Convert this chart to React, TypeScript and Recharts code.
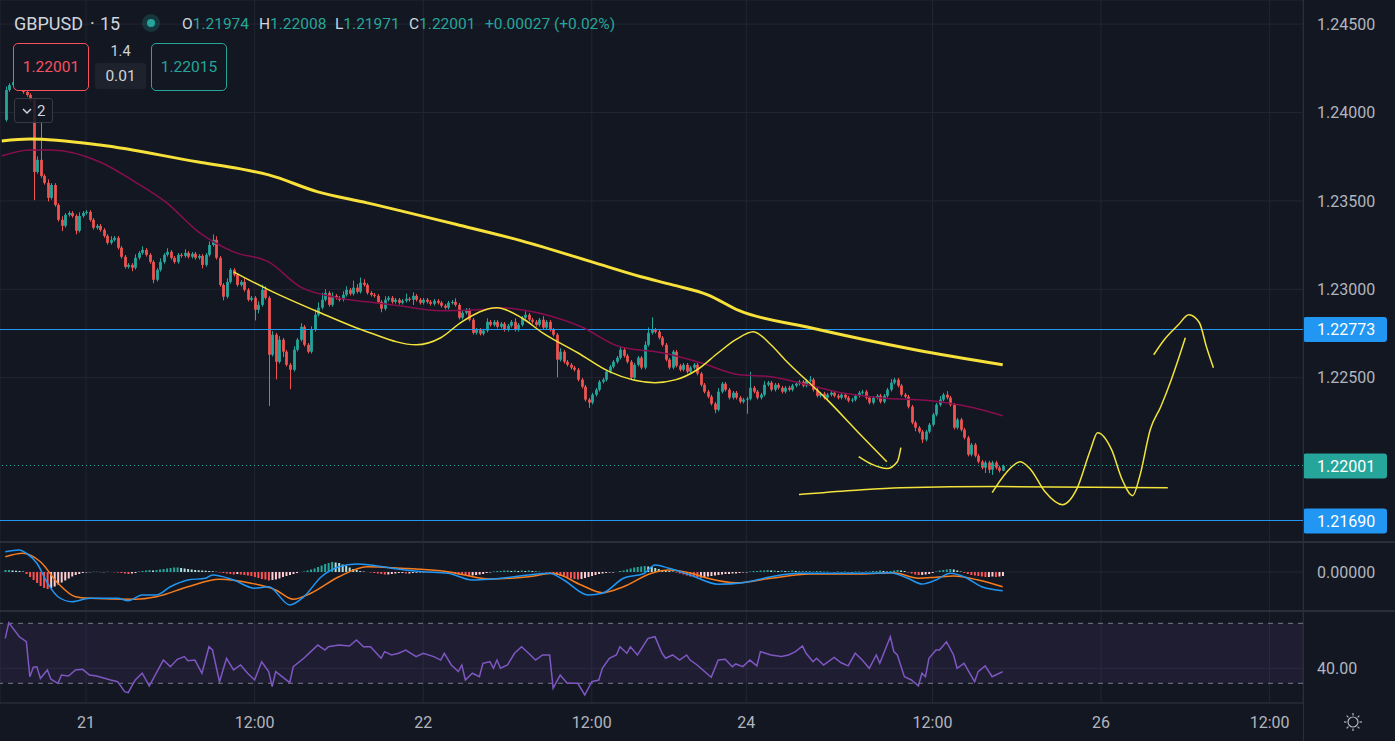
import React from 'react';
import {
  ComposedChart,
  Bar,
  Line,
  XAxis,
  YAxis,
  CartesianGrid,
  ReferenceLine,
  ReferenceArea,
  Cell,
} from 'recharts';

// 15 minute slots on the visible time scale (candles sit in slots 1..285)
const SLOT_COUNT = 371;
const FIRST_OPEN = 1.23958;

const closes = [
  1.24127, 1.24155, 1.24172, 1.24155, 1.24139, 1.24116, 1.24099, 1.24071, 1.23664, 1.23732,
  1.23641, 1.23602, 1.23517, 1.2359, 1.23477, 1.23393, 1.23359, 1.23421, 1.23432, 1.23415,
  1.23331, 1.23415, 1.23432, 1.23438, 1.23393, 1.23348, 1.23359, 1.23336, 1.23302, 1.23263,
  1.2328, 1.23291, 1.23235, 1.23184, 1.23127, 1.23138, 1.23122, 1.23178, 1.23206, 1.23223,
  1.23195, 1.23155, 1.23054, 1.2311, 1.23155, 1.23195, 1.23212, 1.23178, 1.23155, 1.23195,
  1.23189, 1.23206, 1.23184, 1.23201, 1.23178, 1.23189, 1.23138, 1.23195, 1.23251, 1.2328,
  1.23178, 1.23025, 1.22958, 1.23042, 1.2311, 1.23082, 1.23025, 1.23042, 1.22997, 1.22941,
  1.22952, 1.22884, 1.22912, 1.22997, 1.22952, 1.2263, 1.22743, 1.2259, 1.22715, 1.22647,
  1.22573, 1.22545, 1.22658, 1.22715, 1.22788, 1.22686, 1.22647, 1.22771, 1.22856, 1.22896,
  1.22941, 1.2298, 1.22912, 1.22963, 1.22952, 1.22941, 1.22969, 1.22997, 1.22975, 1.23009,
  1.22986, 1.23037, 1.23025, 1.2298, 1.22969, 1.22963, 1.22929, 1.2289, 1.22941, 1.22952,
  1.22929, 1.22941, 1.22924, 1.22935, 1.22946, 1.22941, 1.22963, 1.22941, 1.22924, 1.22941,
  1.22929, 1.22918, 1.22935, 1.22924, 1.22907, 1.22896, 1.22924, 1.22929, 1.22912, 1.22839,
  1.22867, 1.22884, 1.22828, 1.22754, 1.22771, 1.22749, 1.22766, 1.22816, 1.22799, 1.22816,
  1.22788, 1.22805, 1.22771, 1.22794, 1.22816, 1.22771, 1.22799, 1.22839, 1.22856, 1.22828,
  1.22816, 1.22799, 1.22828, 1.22783, 1.22816, 1.22771, 1.22743, 1.22602, 1.22647, 1.2259,
  1.22573, 1.22557, 1.22545, 1.22489, 1.22449, 1.22376, 1.22359, 1.22404, 1.22432, 1.22477,
  1.22489, 1.22534, 1.22562, 1.2259, 1.22613, 1.22658, 1.22624, 1.2259, 1.225, 1.22573,
  1.22613, 1.22557, 1.22686, 1.22754, 1.22771, 1.2276, 1.22726, 1.22686, 1.22602, 1.22557,
  1.22647, 1.22568, 1.22545, 1.22573, 1.22534, 1.22557, 1.22573, 1.22523, 1.2246, 1.22421,
  1.22393, 1.22353, 1.22319, 1.22421, 1.22466, 1.22432, 1.22387, 1.22415, 1.22387, 1.22364,
  1.22376, 1.22381, 1.22443, 1.22421, 1.22387, 1.22404, 1.2246, 1.22472, 1.22432, 1.2246,
  1.22443, 1.22421, 1.22443, 1.22432, 1.22455, 1.22466, 1.22477, 1.22455, 1.22483, 1.22489,
  1.22432, 1.22398, 1.2241, 1.22387, 1.22404, 1.22415, 1.22398, 1.22387, 1.22404, 1.22387,
  1.2237, 1.22376, 1.22398, 1.22415, 1.22421, 1.22387, 1.22359, 1.22387, 1.22398, 1.22364,
  1.22398, 1.22432, 1.22472, 1.22489, 1.22455, 1.22404, 1.22393, 1.22336, 1.22246, 1.22217,
  1.22195, 1.2215, 1.22195, 1.22234, 1.22291, 1.22347, 1.22376, 1.22404, 1.22387, 1.22347,
  1.22217, 1.22263, 1.22206, 1.22161, 1.22065, 1.22121, 1.22059, 1.22025, 1.21991, 1.2202,
  1.2198, 1.2202, 1.21991, 1.21974, 1.22001,
];

// wick length beyond the body, in pips
const wickUp = [
  2, 1, 2, 1, 1, 1, 1, 1, 1, 2, 21, 1, 2, 1, 1, 1, 2, 1, 1, 1,
  1, 2, 1, 1, 1, 1, 1, 1, 1, 1, 2, 1, 1, 1, 1, 1, 1, 2, 1, 2,
  1, 1, 1, 1, 2, 1, 2, 1, 1, 1, 1, 2, 1, 1, 1, 1, 1, 1, 2, 3,
  2, 1, 1, 2, 1, 1, 1, 1, 2, 1, 1, 1, 2, 3, 2, 1, 2, 1, 2, 1,
  1, 1, 2, 1, 2, 1, 1, 2, 3, 3, 4, 2, 1, 2, 1, 1, 2, 2, 1, 4,
  2, 3, 2, 1, 1, 1, 1, 1, 2, 1, 1, 1, 1, 1, 3, 1, 2, 1, 1, 1,
  1, 1, 1, 1, 1, 1, 1, 1, 2, 1, 1, 1, 1, 1, 1, 1, 1, 2, 1, 1,
  1, 1, 1, 1, 1, 2, 1, 1, 2, 1, 1, 1, 1, 2, 1, 1, 1, 1, 2, 1,
  1, 1, 1, 1, 1, 1, 1, 1, 1, 1, 1, 1, 1, 1, 1, 2, 1, 1, 1, 1,
  1, 1, 2, 3, 7, 1, 1, 1, 1, 1, 1, 1, 1, 1, 1, 1, 1, 1, 1, 1,
  1, 1, 1, 2, 1, 1, 1, 1, 1, 1, 1, 1, 9, 1, 1, 1, 2, 1, 1, 1,
  1, 1, 1, 1, 1, 1, 1, 1, 1, 2, 1, 1, 1, 1, 1, 1, 1, 1, 1, 1,
  1, 1, 1, 1, 1, 1, 1, 1, 1, 1, 1, 1, 2, 1, 1, 1, 1, 1, 1, 1,
  1, 1, 1, 1, 1, 1, 2, 1, 2, 1, 1, 1, 1, 1, 1, 1, 1, 1, 1, 1,
  1, 1, 1, 1, 0.7,
];

const wickDown = [
  1, 1, 1, 1, 1, 1, 1, 1, 16, 1, 1, 1, 2, 1, 1, 1, 3, 1, 1, 1,
  2, 1, 1, 1, 1, 1, 1, 1, 1, 1, 1, 1, 1, 1, 1, 1, 2, 1, 1, 1,
  1, 1, 2, 1, 1, 1, 1, 1, 1, 1, 1, 1, 1, 1, 1, 1, 2, 1, 1, 1,
  1, 1, 2, 1, 1, 1, 1, 1, 1, 1, 1, 6, 2, 1, 1, 29, 1, 10, 1, 3,
  1, 11, 1, 1, 1, 1, 1, 1, 1, 1, 1, 1, 1, 1, 1, 1, 1, 1, 1, 1,
  1, 1, 1, 1, 1, 1, 1, 2, 1, 1, 1, 1, 1, 1, 1, 1, 3, 1, 1, 1,
  1, 1, 1, 1, 1, 1, 1, 1, 1, 1, 1, 1, 1, 1, 1, 1, 1, 1, 1, 1,
  1, 1, 1, 1, 1, 1, 1, 1, 1, 1, 1, 1, 1, 1, 1, 1, 1, 10, 1, 1,
  1, 1, 1, 1, 1, 1, 3, 1, 1, 1, 1, 1, 1, 1, 1, 1, 1, 1, 1, 1,
  1, 1, 1, 1, 1, 1, 1, 1, 1, 1, 1, 1, 1, 1, 1, 1, 1, 1, 1, 1,
  1, 1, 2, 1, 1, 1, 1, 1, 1, 1, 1, 8, 1, 1, 1, 1, 1, 1, 1, 1,
  1, 1, 1, 1, 1, 1, 1, 1, 1, 1, 1, 1, 1, 1, 1, 1, 1, 1, 1, 1,
  1, 1, 1, 1, 1, 1, 1, 1, 1, 1, 1, 1, 1, 1, 1, 1, 1, 1, 1, 2,
  1, 2, 1, 1, 1, 1, 1, 1, 1, 1, 1, 1, 1, 1, 1, 1, 1, 1, 1, 3,
  2, 3, 1, 1, 0.3,
];

// [slot, price]
const ma200Points = [
  [0, 1.23839], [8, 1.2385], [28, 1.23816], [56, 1.2372], [68, 1.23681], [76, 1.23647],
  [90, 1.23551], [104, 1.23489], [131, 1.23359], [148, 1.23274], [168, 1.23155],
  [182, 1.23071], [191, 1.23025], [201, 1.22969], [210, 1.22879], [229, 1.22788],
  [260, 1.22658], [285, 1.22573],
];

const ma50Points = [
  [0, 1.23754], [8, 1.23788], [14, 1.23788], [28, 1.2372], [37, 1.23619], [47, 1.23489],
  [56, 1.23325], [66, 1.23212], [76, 1.23155], [85, 1.23014], [94, 1.22958], [104, 1.22929],
  [113, 1.22907], [125, 1.22879], [136, 1.22884], [142, 1.22896], [148, 1.22884],
  [156, 1.2285], [165, 1.22788], [176, 1.22675], [188, 1.22641], [199, 1.22585],
  [210, 1.22517], [219, 1.22506], [227, 1.22472], [239, 1.22415], [250, 1.22387],
  [267, 1.22364], [279, 1.22319], [285, 1.22285],
];

// hand drawn curves
const waveDrawing = [
  [66, 1.23099], [76, 1.22997], [90, 1.22873], [104, 1.2276], [118, 1.22686], [125, 1.22726],
  [131, 1.22816], [141, 1.22896], [148, 1.22839], [154, 1.22754], [164, 1.22641],
  [173, 1.22534], [186, 1.22472], [192, 1.22489], [198, 1.22545], [204, 1.22641],
  [209, 1.22715], [214, 1.2276], [219, 1.22686], [223, 1.22602], [235, 1.22376],
  [245, 1.22167], [252, 1.22025],
];
const hookDrawing = [[244, 1.22054], [248, 1.22008], [252, 1.21986], [255, 1.22025], [256, 1.22104]];
const floorDrawing = [[227, 1.21839], [242, 1.21862], [256, 1.21878], [284, 1.21884], [332, 1.21878]];
const forecastDrawing = [
  [282, 1.2185], [286, 1.21963], [290, 1.22025], [293, 1.2198], [297, 1.21856], [302, 1.21782],
  [306, 1.21867], [310, 1.22093], [312, 1.22189], [316, 1.22093], [319, 1.21924],
  [322, 1.21833], [324, 1.21941], [327, 1.22206], [330, 1.22336], [333, 1.22489], [337, 1.22726],
];
const arrowDrawing = [
  [328, 1.2263], [331, 1.22715], [335, 1.22799], [338, 1.22856], [341, 1.22811], [343, 1.22675], [345, 1.22556],
];

// MACD (12, 26, 9)
const macdPoints = [
  [1, 0.00081], [5, 0.00088], [7, 0.00075], [10, 0.00035], [13, -0.00044], [16, -0.00099],
  [20, -0.00119], [25, -0.00105], [33, -0.00105], [36, -0.00115], [40, -0.00092], [44, -0.00092],
  [48, -0.00059], [53, -0.00032], [58, -0.00025], [60, -0.00012], [66, -0.00032], [72, -0.00065],
  [76, -0.00059], [82, -0.00132], [86, -0.00099], [91, -0.00019], [96, 0.00021], [101, 0.00032],
  [105, 0.00028], [111, 0.00015], [120, 0.00001], [127, -0.00005], [134, -0.00032], [139, -0.00029],
  [150, -0.00012], [156, -0.00005], [160, -0.00032], [167, -0.00092], [171, -0.00085],
  [177, -0.00025], [183, -0.00005], [186, 0.00028], [190, 0.00015], [196, -0.00012],
  [204, -0.00049], [211, -0.00043], [219, -0.00019], [227, -0.00005], [235, -0.00005],
  [245, -0.00005], [253, -0.00003], [258, -0.00025], [262, -0.00048], [266, -0.00032],
  [270, -0.00005], [274, -0.00019], [279, -0.00059], [285, -0.00075],
];
const signalPoints = [
  [1, 0.00061], [6, 0.00075], [11, 0.00041], [16, -0.00045], [21, -0.00099], [25, -0.00105],
  [38, -0.00109], [44, -0.00099], [53, -0.00059], [62, -0.00029], [71, -0.00045], [78, -0.00072],
  [83, -0.00109], [88, -0.00085], [96, -0.00019], [104, 0.00021], [114, 0.00015], [127, 0.00001],
  [139, -0.00028], [150, -0.00019], [157, -0.00005], [165, -0.00052], [171, -0.00083],
  [177, -0.00059], [185, -0.00005], [190, 0.00008], [196, -0.00004], [201, -0.00025],
  [209, -0.00043], [219, -0.00025], [230, -0.00008], [245, -0.00008], [254, -0.00003],
  [261, -0.00025], [266, -0.00021], [271, -0.00016], [278, -0.00032], [285, -0.00059],
];
// histogram per candle, in units of 0.00001
const macdHist = [
  8, 8, 6, 5, 4, 2, -8, -20, -32, -44, -56, -64, -68,
  -64, -58, -50, -42, -34, -26, -18, -12, -8, -4, -2, -1, 1, 1, -1, -1, 1, 0, -1, -2,
  -4, -6, -8, -6, -4, 2, 4, 6, 8, 6, 8, 10,
  12, 14, 16, 18, 18, 16, 14, 12, 10, 8, 7, 6, 5, 4, 3, 1,
  -2, -4, -6, -8, -10, -8, -10, -12, -14, -16,
  -20, -24, -28, -30, -34, -32, -30, -26, -20, -16, -12, -8, -4, 0, 2, 6, 10,
  14, 20, 26, 32, 36, 40, 38, 36, 30, 24, 18, 12, 8,
  4, 2, 0, -2, -4, -6, -8, -10, -10, -8, -6,
  -4, -4, -6, -6, -4, -3, -2, -2, -1, -1, -2, -2, -1, -1,
  -4, -6, -8, -10, -12, -14, -16, -14, -12, -10, -8, -4, -2,
  2, 4, 4, 6, 6, 4, 6, 4, 6, 4, 6, 4, 2, 2, 0, -2, -4,
  -8, -12, -16, -20, -24, -26, -28, -30, -28, -24, -20, -16, -12, -8, -6, -4, -2, -2, 0,
  4, 6, 10, 14, 18, 20, 22, 24, 22, 20, 16, 12, 8, 6, 4, 2, -2, -6, -10,
  -14, -18, -20, -22, -22, -20, -18, -16, -14, -12, -10, -8, -8, -6, -6, -4, -2, -2,
  2, 4, 4, 6, 6, 8, 6, 6, 4, 6, 4, 4, 6, 4, 4, 2, 4, 2, 2, 4, 2, 2, 2,
  0, -2, 2, -2, 2, -2, -2, 2, 2, -2, 2, 2, 4, 4, 6, 4, 2,
  4, 6, 8, 6, 4, -2, -6, -10, -12, -12, -10, -8, -4, 2, 6, 8,
  10, 12, 10, 6, 2, -4, -8, -12, -14, -16, -18, -20, -20, -18, -20, -18, -16,
];

// RSI (14)
const rsiPoints = [
  [1, 60], [2, 70.4], [3, 67.3], [5, 61], [7, 57.7], [8, 34.4], [9, 40.7], [10, 41], [11, 33.3],
  [13, 38.9], [14, 32.7], [16, 30], [17, 35.5], [19, 34.9], [21, 38.9], [23, 39.3], [25, 35.5],
  [27, 34.9], [31, 32.2], [33, 31.1], [35, 24.4], [36, 23.8], [38, 32.2], [40, 36.7], [42, 28.2],
  [45, 41.1], [46, 45.5], [48, 41.1], [50, 46], [52, 47.8], [53, 45.1], [55, 45.5], [57, 36.7],
  [59, 54.4], [60, 52.2], [62, 31.1], [64, 46.7], [66, 38.9], [68, 42.2], [70, 36.7], [72, 32.2],
  [74, 44.4], [76, 37.8], [77, 27.8], [78, 37.8], [82, 30.4], [83, 41.1], [86, 46.7], [88, 51.1],
  [90, 55.5], [92, 52.2], [93, 54.4], [96, 55.5], [99, 54.9], [101, 58.9], [103, 54.4],
  [105, 54.4], [108, 46.7], [109, 51.1], [111, 48.9], [113, 50], [115, 52.2], [118, 47.8],
  [120, 50], [123, 47.8], [125, 45.5], [126, 50], [128, 42.2], [130, 37.8], [131, 42.2],
  [132, 32.2], [134, 36.7], [136, 34.4], [137, 43.3], [139, 44.4], [140, 40], [141, 45.5],
  [142, 40], [144, 42.2], [146, 50], [148, 54.4], [150, 50], [152, 45.5], [154, 48.9], [156, 48.9],
  [157, 26.7], [159, 35.5], [161, 30], [164, 30], [166, 22.2], [168, 31.1], [170, 32.2], [171, 40],
  [173, 46.7], [175, 48.9], [176, 54.4], [178, 50], [179, 54.4], [181, 48.9], [184, 60], [186, 61.1],
  [188, 50], [189, 46.7], [191, 48.9], [193, 45.5], [195, 48.9], [196, 45.5], [198, 42.2], [202, 34],
  [204, 45.5], [206, 46], [208, 41.1], [209, 42.9], [211, 41.1], [213, 45.5], [215, 41.6],
  [216, 51.1], [219, 48.9], [222, 47.8], [224, 48.9], [226, 51.1], [228, 54.9], [229, 50],
  [231, 44.4], [232, 46.7], [234, 42.2], [237, 47.3], [239, 43.7], [241, 41.6], [243, 50],
  [245, 45.5], [247, 40], [249, 48.9], [250, 43.3], [253, 61.1], [254, 51.1], [255, 48.9],
  [257, 34.4], [259, 32.2], [261, 28.2], [262, 36.7], [263, 34.4], [264, 46.7], [266, 52.2],
  [267, 52.2], [269, 57.7], [271, 48.9], [272, 40], [274, 43.3], [277, 31.1], [278, 37.8],
  [280, 41.6], [282, 34.4], [283, 35.5], [285, 37.8],
];

const timeTickSlots = [24, 72, 120, 168, 212, 265, 313, 361];
const timeTickLabels = ['21', '12:00', '22', '12:00', '24', '12:00', '26', '12:00'];
const priceTicks = [1.225, 1.23, 1.235, 1.24, 1.245];

const BG = '#131722';
const GRID = '#232632';
const BORDER = '#2a2e39';
const TEXT = '#b2b5be';
const UP = '#26a69a';
const DOWN = '#ef5350';
const BLUE = '#2196f3';
const FONT = 'Roboto, "DejaVu Sans", sans-serif';

const rows: any[] = [];
for (let s = 0; s < SLOT_COUNT; s++) rows.push({ slot: s });

closes.forEach((close, k) => {
  const open = k === 0 ? FIRST_OPEN : closes[k - 1];
  const high = Math.max(open, close) + wickUp[k] / 10000;
  const low = Math.min(open, close) - wickDown[k] / 10000;
  const h = macdHist[k];
  const prev = k > 0 ? macdHist[k - 1] : 0;
  let histColor;
  if (h >= 0) histColor = h >= prev ? '#26a69a' : '#b2dfdb';
  else histColor = h < prev ? '#ff5252' : '#ffcdd2';
  Object.assign(rows[k + 1], { open, close, high, low, candle: [low, high], hist: h / 100000, histColor });
});

const place = (points: number[][], key: string) => {
  points.forEach(([s, v]) => {
    rows[s][key] = v;
  });
};
place(ma200Points, 'ma200');
place(ma50Points, 'ma50');
place(waveDrawing, 'wave');
place(hookDrawing, 'hook');
place(floorDrawing, 'floor');
place(forecastDrawing, 'forecast');
place(arrowDrawing, 'arrow');
place(macdPoints, 'macd');
place(signalPoints, 'signal');
place(rsiPoints, 'rsi');

const Candle = (props: any) => {
  const { x, y, width, height, payload } = props;
  if (!payload || payload.open == null) return null;
  const { open, close, high, low } = payload;
  const span = high - low;
  const toY = (p: number) => (span > 0 ? y + ((high - p) / span) * height : y);
  const cx = Math.round(x + width / 2) + 0.5;
  const color = close >= open ? UP : DOWN;
  const top = toY(Math.max(open, close));
  const bottom = toY(Math.min(open, close));
  return (
    <g>
      <line x1={cx} x2={cx} y1={y} y2={y + height} stroke={color} strokeWidth={1} />
      <rect x={cx - 1.4} y={top} width={2.8} height={Math.max(bottom - top, 1)} fill={color} />
    </g>
  );
};

const PriceTick = (props: any) => {
  const { x, y, payload, digits } = props;
  return (
    <text x={x} y={y} dy="0.36em" textAnchor="start" fill={TEXT} fontSize={16} fontFamily={FONT}>
      {Number(payload.value).toFixed(digits)}
    </text>
  );
};

const TimeTick = (props: any) => {
  const { x, y, payload } = props;
  const label = timeTickLabels[timeTickSlots.indexOf(payload.value)];
  return (
    <text x={x} y={y + 19} dy="0.36em" textAnchor="middle" fill={TEXT} fontSize={16} fontFamily={FONT}>
      {label}
    </text>
  );
};

const PriceTag = (props: any) => {
  const { viewBox, color, text } = props;
  if (!viewBox) return null;
  const x = viewBox.x + viewBox.width;
  const y = viewBox.y;
  return (
    <g>
      <rect x={x} y={y - 12.5} width={84} height={25} rx={3} fill={color} />
      <text x={x + 14} y={y} dy="0.36em" fill="#ffffff" fontSize={16} fontFamily={FONT}>
        {text}
      </text>
    </g>
  );
};

const yAxisCommon = {
  orientation: 'right' as const,
  width: 92,
  allowDataOverflow: true,
  axisLine: false,
  tickLine: false,
  tickSize: 0,
  tickMargin: 14,
  interval: 0 as const,
};

const drawLine = (key: string, color: string, width: number, type: any = 'monotone') => (
  <Line
    key={key}
    dataKey={key}
    stroke={color}
    strokeWidth={width}
    dot={false}
    activeDot={false}
    connectNulls
    type={type}
    isAnimationActive={false}
  />
);

const abs = (left: number, top: number, extra: React.CSSProperties = {}): React.CSSProperties => ({
  position: 'absolute',
  left,
  top,
  ...extra,
});

export default function App() {
  const margin = { top: 0, right: 0, bottom: 0, left: 0 };
  return (
    <div
      style={{
        position: 'absolute',
        left: 0,
        top: 0,
        width: 1395,
        height: 741,
        background: BG,
        overflow: 'hidden',
        fontFamily: FONT,
      }}
    >
      {/* main price pane */}
      <div style={abs(0, 0)}>
        <ComposedChart width={1395} height={542} data={rows} margin={margin} barCategoryGap={0}>
          <CartesianGrid stroke={GRID} />
          <XAxis dataKey="slot" type="category" scale="band" hide ticks={timeTickSlots} interval={0} />
          <YAxis
            {...yAxisCommon}
            domain={[1.215707, 1.246363]}
            ticks={priceTicks}
            tick={<PriceTick digits={5} />}
          />
          <ReferenceLine
            y={1.22773}
            stroke={BLUE}
            strokeWidth={1}
            shapeRendering="crispEdges"
            label={<PriceTag color={BLUE} text="1.22773" />}
          />
          <ReferenceLine
            y={1.2169}
            stroke={BLUE}
            strokeWidth={1}
            shapeRendering="crispEdges"
            label={<PriceTag color={BLUE} text="1.21690" />}
          />
          <ReferenceLine
            y={1.22001}
            stroke={UP}
            strokeWidth={1}
            strokeDasharray="1 3"
            shapeRendering="crispEdges"
            label={<PriceTag color={UP} text="1.22001" />}
          />
          <Bar dataKey="candle" shape={(p: any) => <Candle {...p} />} isAnimationActive={false} />
          {drawLine('ma50', '#880e4f', 1.5)}
          {drawLine('ma200', '#f7e13a', 3)}
          {drawLine('wave', '#f2e33b', 1.5)}
          {drawLine('hook', '#f2e33b', 1.5)}
          {drawLine('floor', '#f2e33b', 1.5)}
          {drawLine('forecast', '#f2e33b', 1.5)}
          {drawLine('arrow', '#f2e33b', 1.5)}
        </ComposedChart>
      </div>

      {/* MACD pane */}
      <div style={abs(0, 542)}>
        <ComposedChart width={1395} height={69} data={rows} margin={margin} barCategoryGap={0}>
          <CartesianGrid stroke={GRID} />
          <XAxis dataKey="slot" type="category" scale="band" hide ticks={timeTickSlots} interval={0} />
          <YAxis {...yAxisCommon} domain={[-0.00156, 0.0012]} ticks={[0]} tick={<PriceTick digits={5} />} />
          <Bar dataKey="hist" barSize={2} isAnimationActive={false}>
            {rows.map((r) => (
              <Cell key={r.slot} fill={r.histColor || 'transparent'} />
            ))}
          </Bar>
          {drawLine('signal', '#f57c1f', 1.5)}
          {drawLine('macd', '#2196f3', 1.5)}
        </ComposedChart>
      </div>

      {/* RSI pane + time scale */}
      <div style={abs(0, 611)}>
        <ComposedChart width={1395} height={130} data={rows} margin={margin}>
          <CartesianGrid stroke={GRID} />
          <ReferenceArea y1={30} y2={70} fill="#7e57c2" fillOpacity={0.1} stroke="none" />
          <ReferenceLine y={70} stroke="#787b86" strokeDasharray="5 5" />
          <ReferenceLine y={30} stroke="#787b86" strokeDasharray="5 5" />
          <XAxis
            dataKey="slot"
            type="category"
            scale="band"
            ticks={timeTickSlots}
            interval={0}
            height={38}
            tick={<TimeTick />}
            tickLine={false}
            tickSize={0}
            tickMargin={0}
            axisLine={{ stroke: BORDER }}
          />
          <YAxis {...yAxisCommon} domain={[16.87, 78.2]} ticks={[40]} tick={<PriceTick digits={2} />} />
          {drawLine('rsi', '#7e57c2', 1.5, 'linear')}
        </ComposedChart>
      </div>

      {/* pane borders */}
      <div style={abs(1303, 0, { width: 1, height: 741, background: BORDER })} />
      <div style={abs(0, 541, { width: 1395, height: 2, background: BORDER })} />
      <div style={abs(0, 610, { width: 1395, height: 2, background: BORDER })} />

      {/* symbol legend */}
      <div style={abs(14, 12, { fontSize: 18, lineHeight: '24px', color: '#d1d4dc' })}>GBPUSD</div>
      <div style={abs(90, 12, { fontSize: 18, lineHeight: '24px', color: '#d1d4dc' })}>·</div>
      <div style={abs(100, 12, { fontSize: 18, lineHeight: '24px', color: '#d1d4dc' })}>15</div>
      <div
        style={abs(142, 14, {
          width: 18,
          height: 18,
          borderRadius: 9,
          background: 'rgba(38,166,154,0.22)',
        })}
      >
        <div style={abs(5, 5, { width: 8, height: 8, borderRadius: 4, background: UP })} />
      </div>
      {[
        ['O', '1.21974', 182],
        ['H', '1.22008', 259],
        ['L', '1.21971', 335],
        ['C', '1.22001', 409],
        ['', '+0.00027 (+0.02%)', 485],
      ].map(([k, v, left]) => (
        <div
          key={String(left)}
          style={abs(left as number, 13, { fontSize: 15.5, lineHeight: '22px', whiteSpace: 'nowrap' })}
        >
          <span style={{ color: '#d1d4dc' }}>{k}</span>
          <span style={{ color: UP }}>{v}</span>
        </div>
      ))}

      {/* trade buttons */}
      <div
        style={abs(13, 43, {
          width: 74,
          height: 46,
          border: '1px solid #f7525f',
          borderRadius: 5,
          background: BG,
          color: '#f7525f',
          fontSize: 15.5,
          lineHeight: '46px',
          textAlign: 'center',
        })}
      >
        1.22001
      </div>
      <div style={abs(95, 42, { width: 51, textAlign: 'center', color: '#d1d4dc', fontSize: 14.5, lineHeight: '20px' })}>
        1.4
      </div>
      <div
        style={abs(95, 63, {
          width: 51,
          height: 26,
          borderRadius: 3,
          background: '#1e222d',
          color: '#d1d4dc',
          fontSize: 15.5,
          lineHeight: '26px',
          textAlign: 'center',
        })}
      >
        0.01
      </div>
      <div
        style={abs(151, 43, {
          width: 74,
          height: 46,
          border: `1px solid ${UP}`,
          borderRadius: 5,
          background: BG,
          color: UP,
          fontSize: 15.5,
          lineHeight: '46px',
          textAlign: 'center',
        })}
      >
        1.22015
      </div>
      <div
        style={abs(14, 98, {
          width: 37,
          height: 23,
          border: '1px solid #363a45',
          borderRadius: 3,
          background: 'rgba(19,23,34,0.85)',
        })}
      >
        <svg width={37} height={23} style={{ position: 'absolute', left: 0, top: 0 }}>
          <polyline points="8,10 12,14 16,10" fill="none" stroke="#d1d4dc" strokeWidth={1.5} />
          <text x={22} y={11.5} dy="0.36em" fill="#d1d4dc" fontSize={15} fontFamily={FONT}>
            2
          </text>
        </svg>
      </div>

      {/* settings icon on the time scale */}
      <svg width={22} height={22} style={abs(1342, 711)}>
        <circle cx={11} cy={11} r={5} fill="none" stroke={TEXT} strokeWidth={1.2} />
        {[0, 45, 90, 135, 180, 225, 270, 315].map((a) => {
          const r = (a * Math.PI) / 180;
          return (
            <line
              key={a}
              x1={11 + Math.cos(r) * 6.5}
              y1={11 + Math.sin(r) * 6.5}
              x2={11 + Math.cos(r) * 9}
              y2={11 + Math.sin(r) * 9}
              stroke={TEXT}
              strokeWidth={1.2}
            />
          );
        })}
      </svg>
    </div>
  );
}
